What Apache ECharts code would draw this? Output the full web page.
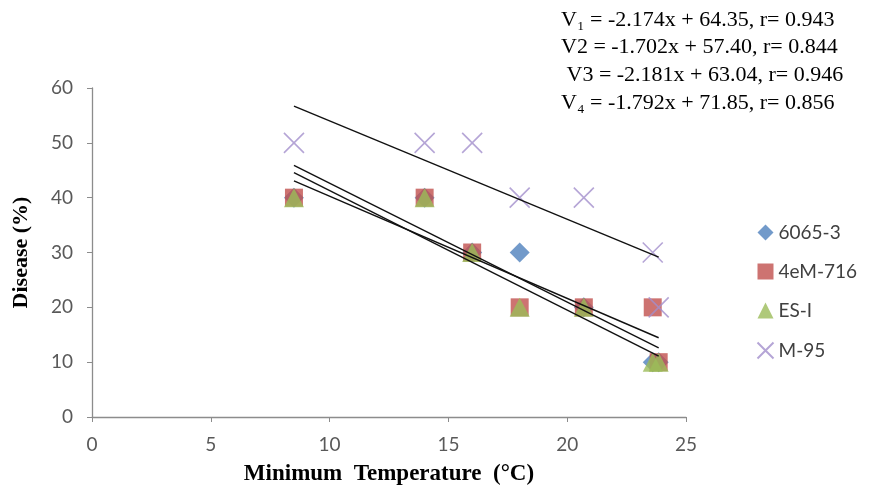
<!DOCTYPE html>
<html>
<head>
<meta charset="utf-8">
<script src="https://cdn.jsdelivr.net/npm/echarts@6/dist/echarts.min.js"></script>
<style>
  html, body { margin: 0; padding: 0; background: #fff; }
  #chart { width: 869px; height: 490px; }
</style>
</head>
<body>
<div id="chart"></div>
<script>
// minimum temperature of each sowing date (°C)
var temps = [8.5, 14, 16, 18, 20.7, 23.6, 23.85];

// disease (%) per variety
var v6065 = [40, 40, 30, 30, 20, 10, 10];
var v4eM = [40, 40, 30, 20, 20, 20, 10];
var vESI = [40, 40, 30, 20, 20, 10, 10];
var vM95 = [50, 50, 50, 40, 40, 30, 20];

var seriesNames = ['6065-3', '4eM-716', 'ES-I', 'M-95'];

// equations as printed on the figure
var equationLines = [
  'V\u2081 = -2.174x + 64.35, r= 0.943',
  'V2 = -1.702x + 57.40, r= 0.844',
  ' V3 = -2.181x + 63.04, r= 0.946',
  'V\u2084 = -1.792x + 71.85, r= 0.856'
];

var tickFont = 'Lato, "Open Sans", sans-serif';
var serifFont = '"Liberation Serif", "DejaVu Serif", serif';

function pairs(xs, ys) {
  return xs.map(function (x, i) { return [x, ys[i]]; });
}

// least squares line over the data range, like an Excel linear trendline
function trend(xs, ys) {
  var n = xs.length, mx = 0, my = 0;
  for (var i = 0; i < n; i++) { mx += xs[i]; my += ys[i]; }
  mx /= n; my /= n;
  var sxy = 0, sxx = 0;
  for (var j = 0; j < n; j++) {
    sxy += (xs[j] - mx) * (ys[j] - my);
    sxx += (xs[j] - mx) * (xs[j] - mx);
  }
  var b = sxy / sxx, a = my - b * mx;
  var x0 = Math.min.apply(null, xs), x1 = Math.max.apply(null, xs);
  return [[x0, a + b * x0], [x1, a + b * x1]];
}

function trendSeries(ys) {
  return {
    type: 'line',
    data: trend(temps, ys),
    symbol: 'none',
    silent: true,
    lineStyle: { color: '#111', width: 1.4 },
    z: 5
  };
}

var crossPath = 'path://M0,0L10,10M10,0L0,10';

var chart = echarts.init(document.getElementById('chart'));

var option = {
  animation: false,
  backgroundColor: '#fff',
  grid: { left: 92, right: 183, top: 88, bottom: 73, containLabel: false, outerBoundsMode: 'none' },
  legend: {
    orient: 'vertical',
    left: 750,
    top: 218,
    itemGap: 20,
    itemWidth: 16,
    itemHeight: 16,
    data: seriesNames,
    textStyle: { fontFamily: tickFont, fontSize: 19, color: '#404040' }
  },
  xAxis: {
    type: 'value',
    min: 0, max: 25, interval: 5,
    name: 'Minimum  Temperature  (\u00b0C)',
    nameLocation: 'middle',
    nameGap: 46,
    nameTextStyle: { fontFamily: serifFont, fontWeight: 'bold', fontSize: 23, color: '#000' },
    splitLine: { show: false },
    axisLine: { lineStyle: { color: '#8c8c8c', width: 1.3 } },
    axisTick: { show: true, length: 5, lineStyle: { color: '#8c8c8c' } },
    axisLabel: { fontFamily: tickFont, fontSize: 19, color: '#595959', margin: 18 }
  },
  yAxis: {
    type: 'value',
    min: 0, max: 60, interval: 10,
    name: 'Disease (%)',
    nameLocation: 'middle',
    nameGap: 60,
    nameTextStyle: { fontFamily: serifFont, fontWeight: 'bold', fontSize: 22, color: '#000' },
    splitLine: { show: false },
    axisLine: { show: true, lineStyle: { color: '#8c8c8c', width: 1.3 } },
    axisTick: { show: true, length: 5, lineStyle: { color: '#8c8c8c' } },
    axisLabel: { fontFamily: tickFont, fontSize: 19, color: '#595959', margin: 19 }
  },
  graphic: equationLines.map(function (t, i) {
    return {
      type: 'text',
      x: 561,
      y: [20, 47, 75, 103][i],
      style: { text: t, font: '22px ' + serifFont, fill: '#000', verticalAlign: 'middle' }
    };
  }),
  series: [
    {
      name: seriesNames[0], type: 'scatter', data: pairs(temps, v6065),
      symbol: 'diamond', symbolSize: 20,
      itemStyle: { color: '#4f81bd' }, z: 2
    },
    {
      name: seriesNames[1], type: 'scatter', data: pairs(temps, v4eM),
      symbol: 'rect', symbolSize: 18,
      itemStyle: { color: '#c0504d' }, z: 3
    },
    {
      name: seriesNames[2], type: 'scatter', data: pairs(temps, vESI),
      symbol: 'triangle', symbolSize: [20, 19],
      itemStyle: { color: '#9bbb59' }, z: 4
    },
    {
      name: seriesNames[3], type: 'scatter', data: pairs(temps, vM95),
      symbol: crossPath, symbolSize: 20,
      itemStyle: { color: 'none', borderColor: '#a28fcc', borderWidth: 1.6 }, z: 4
    },
    trendSeries(v6065),
    trendSeries(v4eM),
    trendSeries(vESI),
    trendSeries(vM95)
  ]
};

chart.setOption(option);
</script>
</body>
</html>
